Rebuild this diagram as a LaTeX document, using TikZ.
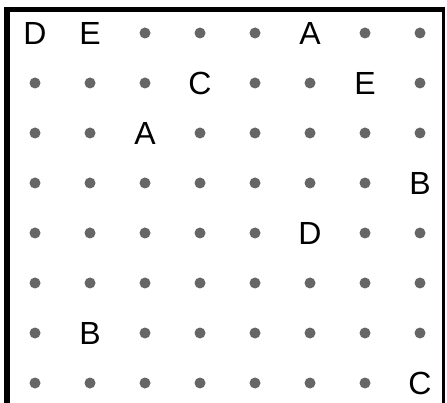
\documentclass[tikz,border=0pt]{standalone}
\usepackage{fontspec}
\setmainfont{Liberation Sans}
\usepackage{tikz}
\definecolor{dotgray}{HTML}{666666}

\begin{document}
\begin{tikzpicture}[x=1pt,y=-1pt,
  dot/.style={circle,fill=dotgray,inner sep=0pt,minimum size=11pt},
  letter/.style={inner sep=0pt,font=\fontsize{32}{36}\selectfont}]
  \useasboundingbox (0,0) rectangle (447,403);
  % frame (bottom edge is cut off)
  \draw[line width=6pt] (7,403) -- (7,7);
  \draw[line width=5pt] (4,9.5) -- (445,9.5);
  \draw[line width=3pt] (443.5,7) -- (443.5,403);
  % letters in the grid
  \foreach \c/\r/\t in {1/1/D,2/1/E,6/1/A,4/2/C,7/2/E,3/3/A,8/4/B,6/5/D,2/7/B,8/8/C}{
    \node[letter] (L\c\r) at ({55*\c-20},{50*\r-17}) {\t};
    \expandafter\gdef\csname taken\c-\r\endcsname{}
  }
  % dots on the free cells
  \foreach \r in {1,...,8}
    \foreach \c in {1,...,8}{
      \ifcsname taken\c-\r\endcsname\else
        \node[dot] (d\c\r) at ({55*\c-20},{50*\r-17}) {};
      \fi
    }
\end{tikzpicture}
\end{document}
